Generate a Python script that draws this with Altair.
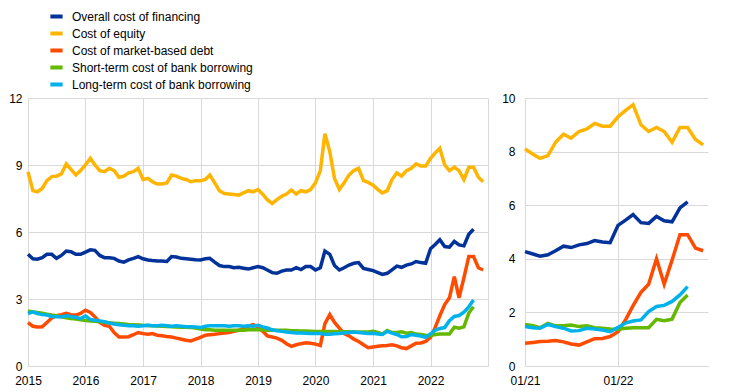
import altair as alt
import pandas as pd

# Monthly observations, Jan 2015 - Dec 2022 (percentages per annum)
months = pd.date_range("2015-01-01", "2022-12-01", freq="MS").strftime("%Y-%m-%d").tolist()

overall = [
    5.00, 4.80, 4.78, 4.85, 5.00, 5.00, 4.82, 4.95, 5.15, 5.12, 5.00, 5.00,
    5.10, 5.20, 5.18, 4.95, 4.85, 4.85, 4.82, 4.70, 4.65, 4.75, 4.82, 4.90,
    4.80, 4.75, 4.72, 4.70, 4.70, 4.68, 4.90, 4.88, 4.82, 4.80, 4.78, 4.76,
    4.75, 4.80, 4.82, 4.65, 4.50, 4.45, 4.45, 4.40, 4.42, 4.38, 4.34, 4.40,
    4.45, 4.40, 4.30, 4.18, 4.15, 4.25, 4.30, 4.30, 4.40, 4.32, 4.45, 4.45,
    4.30, 4.40, 5.15, 5.00, 4.50, 4.30, 4.40, 4.52, 4.60, 4.63, 4.37, 4.32,
    4.27, 4.18, 4.10, 4.15, 4.30, 4.47, 4.42, 4.52, 4.57, 4.68, 4.63, 4.60,
    5.25, 5.45, 5.65, 5.35, 5.32, 5.58, 5.42, 5.38, 5.90, 6.12, None, None,
]

equity = [
    8.70, 7.85, 7.80, 7.95, 8.30, 8.48, 8.50, 8.60, 9.05, 8.80, 8.55, 8.75,
    9.00, 9.30, 9.00, 8.75, 8.70, 8.85, 8.75, 8.45, 8.50, 8.65, 8.70, 8.85,
    8.35, 8.40, 8.25, 8.15, 8.15, 8.20, 8.55, 8.50, 8.40, 8.35, 8.25, 8.30,
    8.30, 8.35, 8.55, 8.20, 7.85, 7.72, 7.70, 7.68, 7.65, 7.75, 7.85, 7.80,
    7.90, 7.68, 7.45, 7.28, 7.45, 7.60, 7.70, 7.88, 7.70, 7.85, 7.80, 7.90,
    8.20, 8.75, 10.40, 9.60, 8.40, 7.90, 8.20, 8.55, 8.75, 8.85, 8.30, 8.22,
    8.10, 7.90, 7.75, 7.85, 8.35, 8.65, 8.50, 8.75, 8.85, 9.05, 8.95, 8.95,
    9.30, 9.55, 9.75, 9.00, 8.75, 8.90, 8.75, 8.35, 8.90, 8.90, 8.45, 8.25,
]

market_debt = [
    1.94, 1.78, 1.75, 1.76, 1.95, 2.15, 2.25, 2.30, 2.36, 2.30, 2.28, 2.35,
    2.50, 2.40, 2.20, 1.95, 1.82, 1.78, 1.50, 1.30, 1.30, 1.31, 1.40, 1.50,
    1.45, 1.42, 1.45, 1.38, 1.35, 1.32, 1.30, 1.25, 1.20, 1.15, 1.12, 1.20,
    1.28, 1.38, 1.40, 1.42, 1.45, 1.48, 1.50, 1.55, 1.60, 1.68, 1.78, 1.85,
    1.75, 1.55, 1.35, 1.30, 1.25, 1.15, 1.00, 0.88, 0.95, 1.00, 1.04, 1.02,
    0.98, 0.92, 1.90, 2.30, 1.95, 1.70, 1.45, 1.35, 1.20, 1.10, 0.95, 0.82,
    0.85, 0.88, 0.91, 0.92, 0.95, 0.90, 0.82, 0.78, 0.90, 1.02, 1.03, 1.10,
    1.28, 1.75, 2.25, 2.75, 3.05, 4.00, 3.05, 3.95, 4.90, 4.90, 4.40, 4.30,
]

short_term_bank = [
    2.46, 2.42, 2.40, 2.36, 2.32, 2.28, 2.25, 2.20, 2.16, 2.13, 2.10, 2.07,
    2.04, 2.02, 2.00, 1.98, 1.96, 1.94, 1.92, 1.90, 1.88, 1.86, 1.85, 1.84,
    1.82, 1.81, 1.80, 1.79, 1.78, 1.77, 1.76, 1.75, 1.74, 1.73, 1.72, 1.70,
    1.65, 1.62, 1.62, 1.60, 1.60, 1.60, 1.60, 1.60, 1.60, 1.60, 1.62, 1.62,
    1.62, 1.62, 1.60, 1.60, 1.60, 1.60, 1.60, 1.58, 1.58, 1.57, 1.57, 1.56,
    1.55, 1.55, 1.54, 1.54, 1.54, 1.53, 1.53, 1.53, 1.52, 1.52, 1.52, 1.52,
    1.55, 1.50, 1.43, 1.59, 1.50, 1.50, 1.53, 1.47, 1.50, 1.43, 1.41, 1.38,
    1.37, 1.41, 1.43, 1.43, 1.43, 1.74, 1.69, 1.75, 2.37, 2.65, None, None,
]

long_term_bank = [
    2.35, 2.42, 2.35, 2.30, 2.28, 2.22, 2.20, 2.20, 2.25, 2.22, 2.18, 2.12,
    2.25, 2.08, 2.05, 2.02, 1.98, 1.92, 1.88, 1.85, 1.82, 1.80, 1.80, 1.78,
    1.80, 1.82, 1.80, 1.80, 1.82, 1.80, 1.78, 1.80, 1.78, 1.76, 1.76, 1.75,
    1.72, 1.78, 1.80, 1.80, 1.80, 1.80, 1.78, 1.80, 1.80, 1.78, 1.80, 1.78,
    1.82, 1.75, 1.70, 1.62, 1.58, 1.55, 1.52, 1.50, 1.48, 1.48, 1.47, 1.46,
    1.46, 1.45, 1.42, 1.42, 1.44, 1.46, 1.48, 1.50, 1.52, 1.50, 1.48, 1.46,
    1.47, 1.43, 1.41, 1.55, 1.47, 1.41, 1.31, 1.32, 1.41, 1.38, 1.34, 1.28,
    1.44, 1.61, 1.68, 1.72, 2.03, 2.22, 2.26, 2.41, 2.65, 2.96, None, None,
]

series_names = [
    "Overall cost of financing",
    "Cost of equity",
    "Cost of market-based debt",
    "Short-term cost of bank borrowing",
    "Long-term cost of bank borrowing",
]
series_colors = ["#003299", "#ffb400", "#ff4b00", "#65b800", "#00b1ea"]

left_year_ticks = [2015, 2016, 2017, 2018, 2019, 2020, 2021, 2022, 2023]
left_y_ticks = [0, 3, 6, 9, 12]
right_y_ticks = [0, 2, 4, 6, 8, 10]
right_x_ticks = ["2021-01-01", "2022-01-01"]

rows = []
for k, (name, vals) in enumerate(zip(series_names, [overall, equity, market_debt, short_term_bank, long_term_bank])):
    for d, v in zip(months, vals):
        if v is not None:
            rows.append({"date": d, "series": name, "value": v, "k": k})
df = pd.DataFrame(rows)

FONT = "Liberation Sans"
GRID = "#d9d9d9"

color = alt.Color(
    "series:N",
    scale=alt.Scale(domain=series_names, range=series_colors),
    legend=alt.Legend(
        title=None,
        orient="none",
        legendX=20,
        legendY=-90,
        direction="vertical",
        symbolType="stroke",
        symbolStrokeWidth=4,
        symbolSize=150,
        labelFontSize=12,
        labelFont=FONT,
        labelColor="#000000",
        labelOffset=7,
        labelLimit=400,
        rowPadding=0,
        padding=0,
    ),
)


def dt(s):
    y, m, d = (int(p) for p in s.split("-"))
    return alt.DateTime(year=y, month=m, date=d, utc=True)


left = (
    alt.Chart(df)
    .mark_line(strokeWidth=3.5)
    .encode(
        x=alt.X(
            "date:T",
            scale=alt.Scale(type="utc", domain=[dt("2015-01-01"), dt("2023-01-01")]),
            axis=alt.Axis(
                values=[dt(f"{y}-01-01") for y in left_year_ticks],
                labelExpr="utcFormat(datum.value, '%Y') == '2023' ? '' : utcFormat(datum.value, '%Y')",
                labelFlush=False,
                labelOverlap=False,
                title=None,
            ),
        ),
        y=alt.Y(
            "value:Q",
            scale=alt.Scale(domain=[0, 12]),
            axis=alt.Axis(values=left_y_ticks, title=None, minExtent=20, maxExtent=20, labelPadding=6),
        ),
        color=color,
        order=alt.Order("k:Q"),
    )
    .properties(width=460, height=268)
)

right = (
    alt.Chart(df)
    .transform_filter("time(datum.date) >= utc(2021, 0, 1)")
    .mark_line(strokeWidth=3.5)
    .encode(
        x=alt.X(
            "date:T",
            scale=alt.Scale(type="utc", domain=[dt("2021-01-01"), dt("2022-12-20")]),
            axis=alt.Axis(
                values=[dt(s) for s in right_x_ticks],
                format="%m/%y",
                labelFlush=False,
                labelOverlap=False,
                title=None,
            ),
        ),
        y=alt.Y(
            "value:Q",
            scale=alt.Scale(domain=[0, 10]),
            axis=alt.Axis(values=right_y_ticks, title=None, minExtent=20, maxExtent=20, labelPadding=10),
        ),
        color=color,
        order=alt.Order("k:Q"),
    )
    .properties(width=183, height=268)
)

chart = (
    alt.hconcat(left, right, spacing=10)
    .properties(padding=0, background="white")
    .configure_view(stroke=None)
    .configure_axis(
        labelFont=FONT,
        labelFontSize=12,
        labelColor="#000000",
        gridColor=GRID,
        gridWidth=1,
        ticks=False,
        domain=False,
    )
    .configure_axisX(domain=True, domainColor=GRID, domainWidth=1, labelPadding=9)
)

chart.save("out.html", embed_options={"renderer": "svg", "actions": False})
